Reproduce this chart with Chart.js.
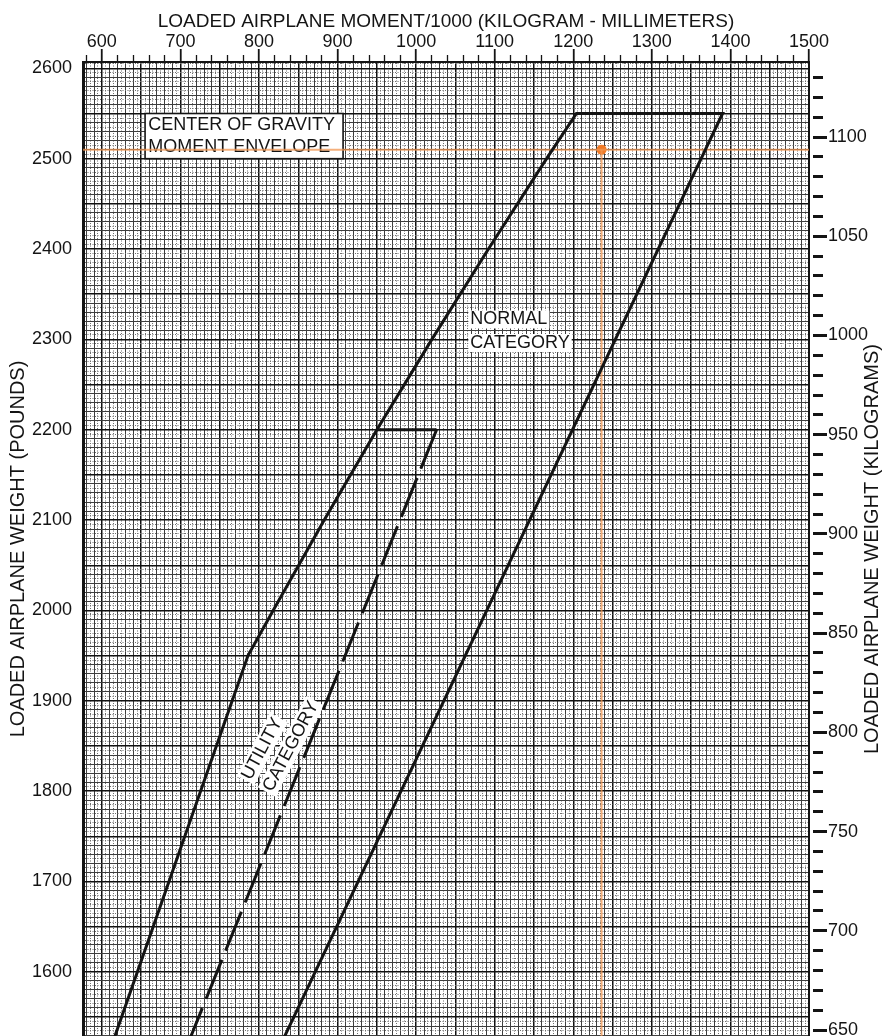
<!DOCTYPE html>
<html>
<head>
<meta charset="utf-8">
<title>Center of Gravity Moment Envelope</title>
<script src="https://cdn.jsdelivr.net/npm/chart.js@4.4.1/dist/chart.umd.min.js"></script>
<style>
    html, body { margin: 0; padding: 0; background: #fff; }
    #chart-wrap { width: 884px; height: 1036px; }
</style>
</head>
<body>
<div id="chart-wrap"><canvas id="cg-chart" width="884" height="1036"></canvas></div>
<script>
// ===== DATA =====
// moment/1000 (kg-mm) on the top axis, pounds on the left, kilograms on the right
const momentTicks = [600, 700, 800, 900, 1000, 1100, 1200, 1300, 1400, 1500];
const poundTicks = [1600, 1700, 1800, 1900, 2000, 2100, 2200, 2300, 2400, 2500, 2600];
const kilogramTicks = [650, 700, 750, 800, 850, 900, 950, 1000, 1050, 1100];

// normal category envelope (runs off the bottom of the sheet)
// forward edge bends slightly between 1950 and 2550 lb
const normalMoment = [605, 786, 818, 883, 950, 1020, 1092, 1166, 1204, 1390, 817];
const normalWeight = [1500, 1950, 2000, 2100, 2200, 2300, 2400, 2500, 2550, 2550, 1500];

// utility category: solid top edge, dashed aft edge
const utilityTopMoment = [950, 1026];
const utilityTopWeight = [2200, 2200];
const utilityAftMoment = [1026, 700];
const utilityAftWeight = [2200, 1500];

// plotted loaded airplane
const loadedMoment = [1236];
const loadedWeight = [2510];

// ===== AXIS RANGES =====
const MOMENT_MIN = 576, MOMENT_MAX = 1500;
const WEIGHT_MIN = 1529, WEIGHT_MAX = 2607;
const KG_MIN = 647, KG_MAX = 1137.8;

const FONT = '"Liberation Sans", Arial, Helvetica, sans-serif';
const INK = '#141414';
const ORANGE = 'rgba(242, 150, 80, 0.75)';

function toPoints(xs, ys) {
    return xs.map((x, i) => ({ x: x, y: ys[i] }));
}

// ticks every `step`, used for the paper grid and the tick marks
function everyStep(step) {
    return scale => {
        const ticks = [];
        for (let v = Math.ceil(scale.min / step) * step; v <= scale.max; v += step) {
            ticks.push({ value: v });
        }
        scale.ticks = ticks;
    };
}

// fixed axis sizes, and no extra room for half labels at the ends
function fixSize(key, size) {
    return s => {
        s[key] = size;
        s.paddingTop = 0;
        s.paddingBottom = 0;
        s.paddingLeft = 0;
        s.paddingRight = 0;
    };
}

// graph paper: bold every 50, solid every 10, dotted in between
function paperColor(ctx) {
    const v = ctx.tick ? ctx.tick.value : 0;
    if (v % 50 === 0) return '#111';
    if (v % 10 === 0) return '#3e3e3e';
    return '#6e6e6e';
}
function paperWidth(ctx) {
    const v = ctx.tick ? ctx.tick.value : 0;
    return v % 50 === 0 ? 1.5 : 1;
}
function paperDash(ctx) {
    if (!ctx.tick) return [];
    return ctx.tick.value % 10 === 0 ? [] : [1, 1.5];
}

// ===== NOTES DRAWN ON THE SHEET =====
const cgBox = { x0: 655, x1: 907, y0: 2500, y1: 2550 };
const cgLines = [
    { text: 'CENTER OF GRAVITY', x: 659, y: 2537 },
    { text: 'MOMENT ENVELOPE', x: 659, y: 2513 }
];
const normalLabel = [
    { text: 'NORMAL', x: 1069, y: 2322 },
    { text: 'CATEGORY', x: 1069, y: 2296 }
];
const utilityLabel = [
    { text: 'UTILITY', x: 784, y: 1814 },
    { text: 'CATEGORY', x: 811, y: 1801 }
];
const UTILITY_ANGLE = -62 * Math.PI / 180;

const sheetNotes = {
    id: 'sheetNotes',
    beforeDatasetsDraw(chart) {
        const { ctx, scales: { x, y } } = chart;
        ctx.save();
        ctx.font = '18px ' + FONT;
        ctx.textBaseline = 'middle';
        ctx.textAlign = 'left';

        // center of gravity box
        const bl = x.getPixelForValue(cgBox.x0), br = x.getPixelForValue(cgBox.x1);
        const bt = y.getPixelForValue(cgBox.y1), bb = y.getPixelForValue(cgBox.y0);
        ctx.fillStyle = '#fff';
        ctx.fillRect(bl, bt, br - bl, bb - bt);
        ctx.strokeStyle = INK;
        ctx.lineWidth = 1.6;
        ctx.strokeRect(bl, bt, br - bl, bb - bt);
        ctx.fillStyle = INK;
        cgLines.forEach(l => ctx.fillText(l.text, x.getPixelForValue(l.x), y.getPixelForValue(l.y)));

        // normal category
        normalLabel.forEach(l => {
            const px = x.getPixelForValue(l.x), py = y.getPixelForValue(l.y);
            const w = ctx.measureText(l.text).width;
            ctx.fillStyle = '#fff';
            ctx.fillRect(px - 2, py - 9, w + 4, 18);
            ctx.fillStyle = INK;
            ctx.fillText(l.text, px, py);
        });

        // utility category, turned along the envelope
        utilityLabel.forEach(l => {
            const px = x.getPixelForValue(l.x), py = y.getPixelForValue(l.y);
            const w = ctx.measureText(l.text).width;
            ctx.save();
            ctx.translate(px, py);
            ctx.rotate(UTILITY_ANGLE);
            ctx.fillStyle = '#fff';
            ctx.fillRect(-2, -10, w + 4, 20);
            ctx.fillStyle = INK;
            ctx.fillText(l.text, 0, 0);
            ctx.restore();
        });
        ctx.restore();
    },
    afterDraw(chart) {
        // right hand title reads bottom to top like the left one
        const { ctx, chartArea, scales: { yKg } } = chart;
        ctx.save();
        ctx.translate(yKg.right - 12, (chartArea.top + chartArea.bottom) / 2);
        ctx.rotate(-Math.PI / 2);
        ctx.font = '20px ' + FONT;
        ctx.fillStyle = INK;
        ctx.textAlign = 'center';
        ctx.textBaseline = 'middle';
        ctx.fillText('LOADED AIRPLANE WEIGHT (KILOGRAMS)', 0, 0);
        ctx.restore();
    }
};

// ===== CHART =====
const blackLine = {
    showLine: true,
    borderColor: INK,
    borderWidth: 3,
    pointRadius: 0,
    fill: false
};

new Chart(document.getElementById('cg-chart'), {
    type: 'scatter',
    data: {
        datasets: [
            Object.assign({ label: 'Normal category', data: toPoints(normalMoment, normalWeight) }, blackLine),
            Object.assign({ label: 'Utility top', data: toPoints(utilityTopMoment, utilityTopWeight) }, blackLine),
            Object.assign({ label: 'Utility aft', data: toPoints(utilityAftMoment, utilityAftWeight), borderDash: [42, 10] }, blackLine),
            {
                label: 'Weight line',
                data: toPoints([MOMENT_MIN, MOMENT_MAX], [loadedWeight[0], loadedWeight[0]]),
                showLine: true, borderColor: ORANGE, borderWidth: 2, pointRadius: 0
            },
            {
                label: 'Moment line',
                data: toPoints([loadedMoment[0], loadedMoment[0]], [loadedWeight[0], WEIGHT_MIN]),
                showLine: true, borderColor: ORANGE, borderWidth: 2, pointRadius: 0
            },
            {
                label: 'Loaded airplane',
                data: toPoints(loadedMoment, loadedWeight),
                pointRadius: 5, pointBackgroundColor: '#f07a26', pointBorderWidth: 0
            }
        ]
    },
    options: {
        responsive: false,
        animation: false,
        layout: { padding: 0, autoPadding: false },
        plugins: { legend: { display: false }, tooltip: { enabled: false } },
        scales: {
            x: {
                type: 'linear',
                position: 'top',
                min: MOMENT_MIN,
                max: MOMENT_MAX,
                afterBuildTicks: everyStep(5),
                afterFit: fixSize('height', 62),
                ticks: {
                    autoSkip: false,
                    maxRotation: 0,
                    minRotation: 0,
                    padding: -4,
                    color: INK,
                    font: { family: FONT, size: 18 },
                    callback: v => momentTicks.includes(v) ? String(v) : ''
                },
                grid: {
                    color: paperColor,
                    lineWidth: paperWidth,
                    tickLength: 13,
                    tickColor: c => (c.tick && c.tick.value % 20 === 0) ? INK : 'transparent',
                    tickWidth: c => (c.tick && c.tick.value % 100 === 0) ? 1.8 : 1.3,
                    tickBorderDash: c => (c.tick && c.tick.value % 100 === 0) ? [] : [0, 6, 7, 20]
                },
                border: { display: true, color: INK, width: 2, dash: paperDash },
                title: {
                    display: true,
                    text: 'LOADED AIRPLANE MOMENT/1000 (KILOGRAM - MILLIMETERS)',
                    color: INK,
                    font: { family: FONT, size: 19 },
                    padding: { top: 10, bottom: 0 }
                }
            },
            y: {
                type: 'linear',
                position: 'left',
                min: WEIGHT_MIN,
                max: WEIGHT_MAX,
                afterBuildTicks: everyStep(5),
                afterFit: fixSize('width', 83),
                ticks: {
                    autoSkip: false,
                    padding: 11,
                    color: INK,
                    font: { family: FONT, size: 18 },
                    callback: v => poundTicks.includes(v) ? String(v) : ''
                },
                grid: {
                    color: paperColor,
                    lineWidth: paperWidth,
                    drawTicks: false
                },
                border: { display: true, color: INK, width: 3, dash: paperDash },
                title: {
                    display: true,
                    text: 'LOADED AIRPLANE WEIGHT (POUNDS)',
                    color: INK,
                    font: { family: FONT, size: 20 },
                    padding: { top: 6, bottom: 0 }
                }
            },
            yKg: {
                type: 'linear',
                position: 'right',
                min: KG_MIN,
                max: KG_MAX,
                afterBuildTicks: everyStep(10),
                afterFit: fixSize('width', 75),
                ticks: {
                    autoSkip: false,
                    padding: 1,
                    color: INK,
                    font: { family: FONT, size: 18 },
                    callback: v => kilogramTicks.includes(v) ? String(v) : ''
                },
                grid: {
                    drawOnChartArea: false,
                    tickLength: 18,
                    tickColor: INK,
                    tickWidth: 3,
                    tickBorderDash: c => (c.tick && c.tick.value % 50 === 0) ? [0, 3, 15, 30] : [0, 3, 10, 30]
                },
                border: { display: true, color: INK, width: 2 }
            }
        }
    },
    plugins: [sheetNotes]
});
</script>
</body>
</html>
